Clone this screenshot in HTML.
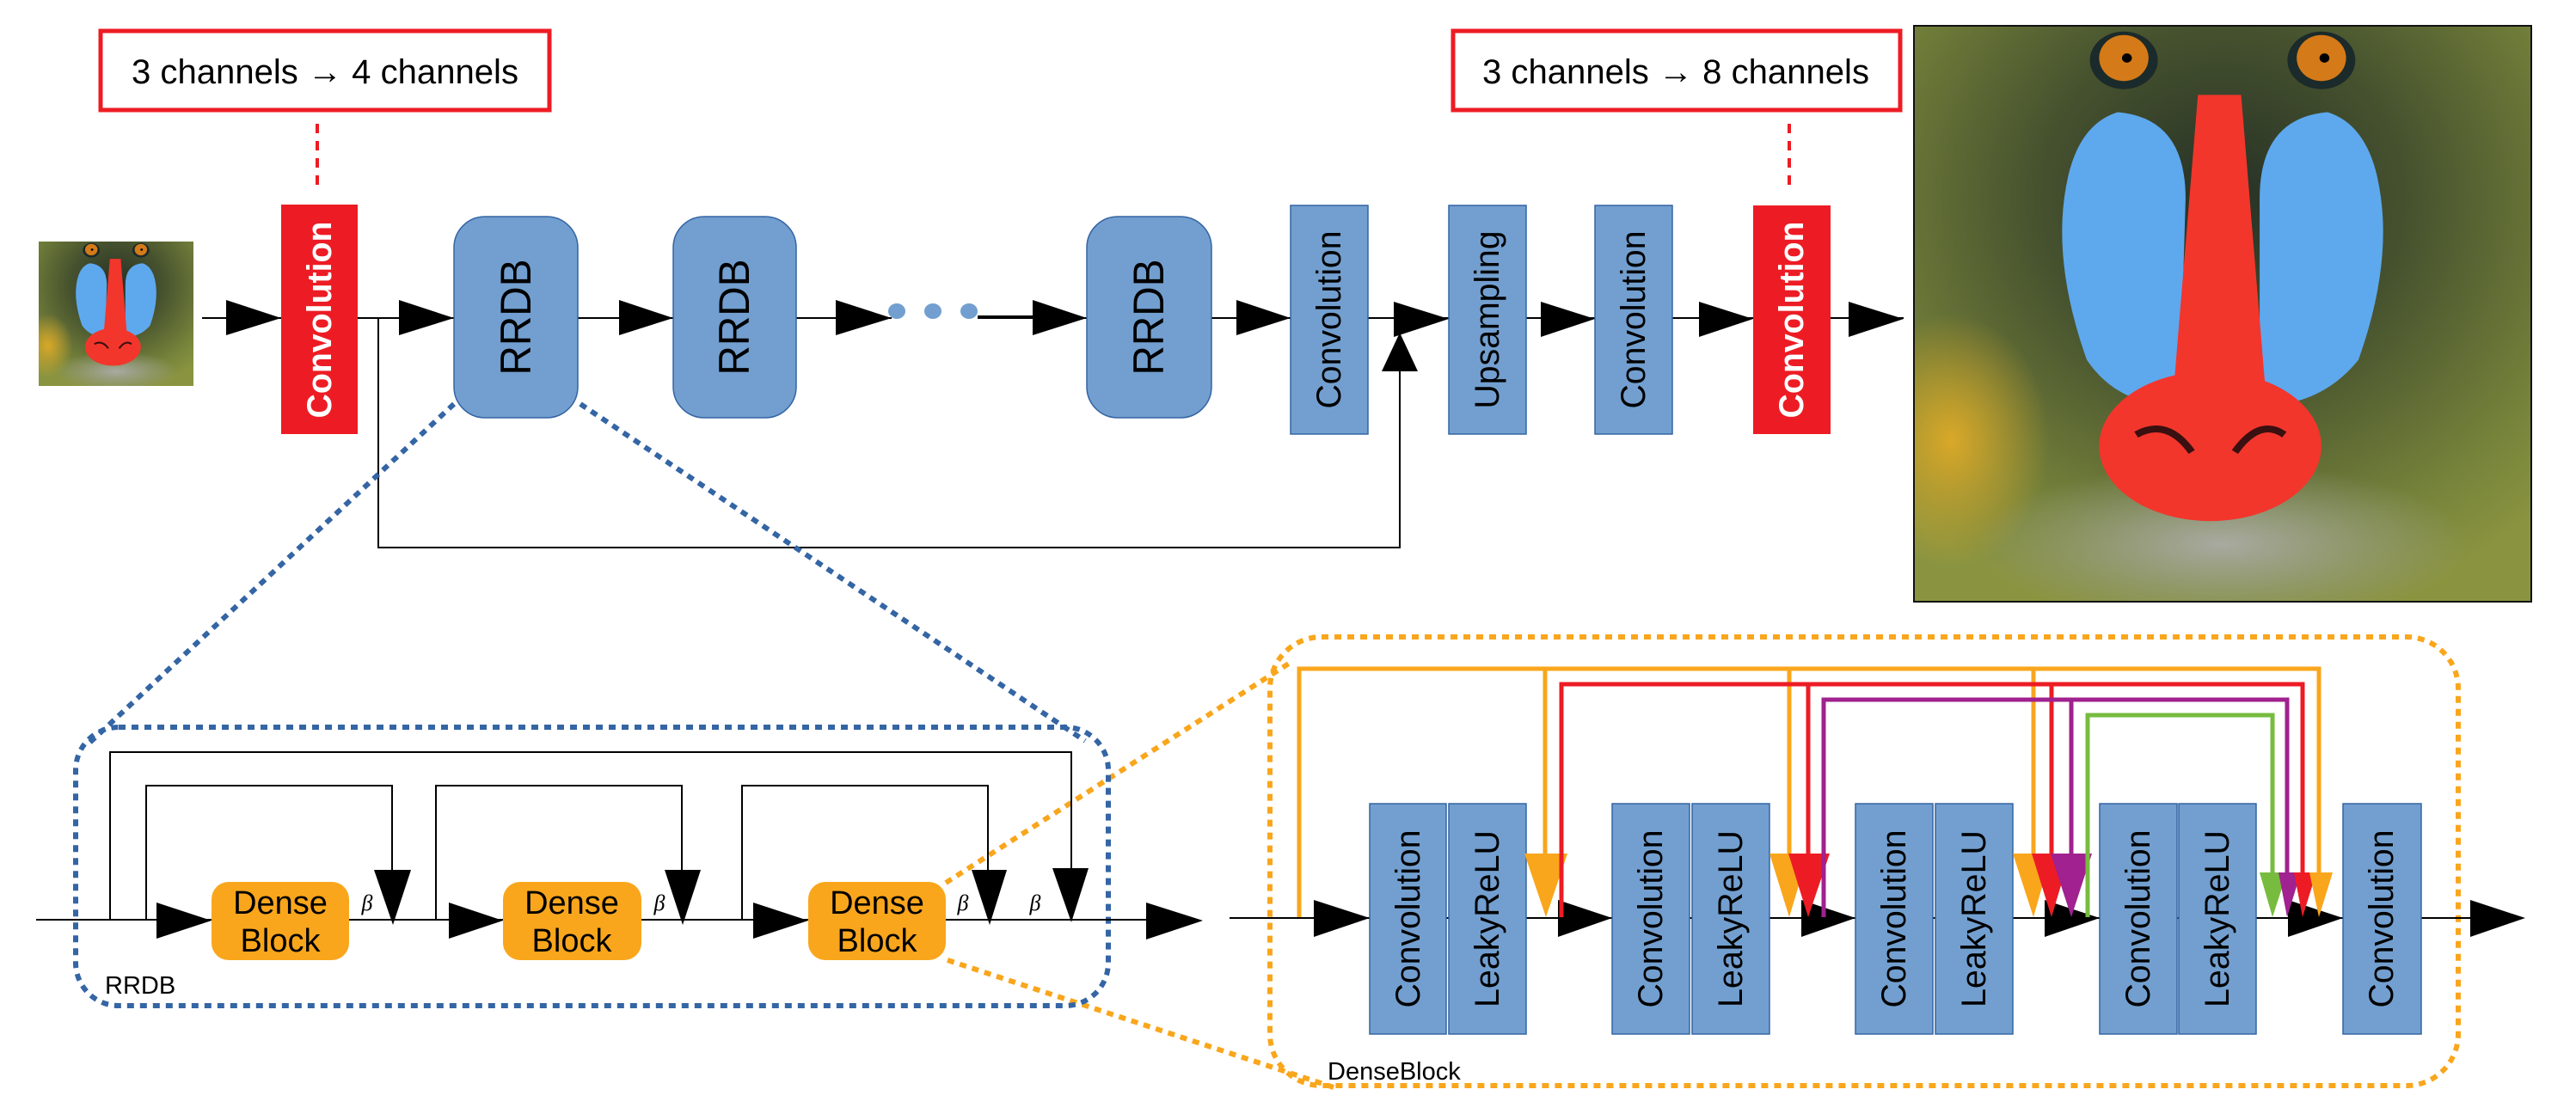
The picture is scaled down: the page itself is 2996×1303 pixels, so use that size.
<!DOCTYPE html>
<html><head><meta charset="utf-8"><style>
html,body{margin:0;padding:0;background:#fff}
svg{display:block}
</style></head><body>
<svg width="2996" height="1303" viewBox="0 0 2996 1303" xmlns="http://www.w3.org/2000/svg" font-family="Liberation Sans, sans-serif">
<defs>
<clipPath id="mc"><rect x="0" y="0" width="100" height="100"/></clipPath>
<radialGradient id="fur" cx="50%" cy="30%" r="75%">
<stop offset="0" stop-color="#263026"/><stop offset="0.4" stop-color="#46522e"/><stop offset="0.8" stop-color="#75823a"/><stop offset="1" stop-color="#8a9440"/>
</radialGradient>
<radialGradient id="yel" cx="50%" cy="50%" r="50%">
<stop offset="0" stop-color="#d9a828"/><stop offset="1" stop-color="#d9a828" stop-opacity="0"/>
</radialGradient>
<radialGradient id="wh" cx="50%" cy="50%" r="50%">
<stop offset="0" stop-color="#a8aaa0"/><stop offset="1" stop-color="#a8aaa0" stop-opacity="0"/>
</radialGradient>
<g id="mand" clip-path="url(#mc)">
<rect x="0" y="0" width="100" height="100" fill="url(#fur)"/>
<ellipse cx="6" cy="72" rx="16" ry="22" fill="url(#yel)"/>
<ellipse cx="50" cy="90" rx="40" ry="14" fill="url(#wh)"/>
<ellipse cx="34" cy="6" rx="5.5" ry="5" fill="#1b2a2a"/>
<ellipse cx="66" cy="6" rx="5.5" ry="5" fill="#1b2a2a"/>
<circle cx="34" cy="5.6" r="4" fill="#d47a18"/>
<circle cx="66" cy="5.6" r="4" fill="#d47a18"/>
<circle cx="34.5" cy="5.6" r="0.8" fill="#000"/>
<circle cx="66.5" cy="5.6" r="0.8" fill="#000"/>
<path d="M33 15 Q44 16 44 30 L43 66 Q33 66 28 58 Q22 40 25 26 Q27 17 33 15Z" fill="#5ea8ee"/>
<path d="M67 15 Q56 16 56 30 L56 66 Q66 66 72 58 Q78 40 75 26 Q73 17 67 15Z" fill="#5ea8ee"/>
<path d="M46 12 L53 12 L57 64 L42 64 Z" fill="#f2362c"/>
<ellipse cx="48" cy="73" rx="18" ry="13" fill="#f2362c"/>
<path d="M36 71 Q41 68 45 74 M52 74 Q56 68 60 71" stroke="#3a1010" stroke-width="1.2" fill="none"/>
</g>
</defs>

<rect x="117" y="36" width="522" height="92" fill="#fff" stroke="#ed1c24" stroke-width="5"/>
<text x="378" y="97" font-size="40" text-anchor="middle" textLength="450" lengthAdjust="spacingAndGlyphs">3 channels → 4 channels</text>
<line x1="369" y1="144" x2="369" y2="215" stroke="#ed1c24" stroke-width="4" stroke-dasharray="11 9"/>
<rect x="1690" y="36" width="520" height="92" fill="#fff" stroke="#ed1c24" stroke-width="5"/>
<text x="1949" y="97" font-size="40" text-anchor="middle" textLength="450" lengthAdjust="spacingAndGlyphs">3 channels → 8 channels</text>
<line x1="2081" y1="144" x2="2081" y2="215" stroke="#ed1c24" stroke-width="4" stroke-dasharray="11 9"/>

<line x1="235" y1="370" x2="2214" y2="370" stroke="#000" stroke-width="2"/>
<polyline points="440,370 440,637 1628,637 1628,430" fill="none" stroke="#000" stroke-width="2"/>
<polygon points="1607,432 1649,432 1628,387" fill="#000"/>

<use href="#mand" transform="translate(45,281) scale(1.8,1.68)"/>

<rect x="327" y="238" width="89" height="267" fill="#ed1c24"/>
<text transform="translate(372,372) rotate(-90)" font-size="40" font-weight="bold" fill="#fff" text-anchor="middle" dominant-baseline="central" textLength="229" lengthAdjust="spacingAndGlyphs">Convolution</text>

<rect x="528" y="252" width="144" height="234" rx="36" fill="#729fcf" stroke="#3465a4" stroke-width="1.5"/>
<text transform="translate(600,369) rotate(-90)" font-size="50" text-anchor="middle" dominant-baseline="central" textLength="135" lengthAdjust="spacingAndGlyphs">RRDB</text>
<rect x="783" y="252" width="143" height="234" rx="36" fill="#729fcf" stroke="#3465a4" stroke-width="1.5"/>
<text transform="translate(854,369) rotate(-90)" font-size="50" text-anchor="middle" dominant-baseline="central" textLength="135" lengthAdjust="spacingAndGlyphs">RRDB</text>
<rect x="1264" y="252" width="145" height="234" rx="36" fill="#729fcf" stroke="#3465a4" stroke-width="1.5"/>
<text transform="translate(1336,369) rotate(-90)" font-size="50" text-anchor="middle" dominant-baseline="central" textLength="135" lengthAdjust="spacingAndGlyphs">RRDB</text>

<rect x="1037" y="340" width="100" height="60" fill="#fff"/>
<ellipse cx="1043" cy="362" rx="10" ry="9" fill="#729fcf"/>
<ellipse cx="1085" cy="362" rx="10" ry="9" fill="#729fcf"/>
<ellipse cx="1127" cy="362" rx="10" ry="9" fill="#729fcf"/>
<line x1="1137" y1="368" x2="1201" y2="368" stroke="#000" stroke-width="2"/>

<rect x="1501" y="239" width="90" height="266" fill="#729fcf" stroke="#3465a4" stroke-width="1.5"/>
<text transform="translate(1546,372) rotate(-90)" font-size="40" text-anchor="middle" dominant-baseline="central" textLength="207" lengthAdjust="spacingAndGlyphs">Convolution</text>
<rect x="1685" y="239" width="90" height="266" fill="#729fcf" stroke="#3465a4" stroke-width="1.5"/>
<text transform="translate(1730,372) rotate(-90)" font-size="40" text-anchor="middle" dominant-baseline="central" textLength="207" lengthAdjust="spacingAndGlyphs">Upsampling</text>
<rect x="1855" y="239" width="90" height="266" fill="#729fcf" stroke="#3465a4" stroke-width="1.5"/>
<text transform="translate(1900,372) rotate(-90)" font-size="40" text-anchor="middle" dominant-baseline="central" textLength="207" lengthAdjust="spacingAndGlyphs">Convolution</text>
<rect x="2039" y="239" width="90" height="266" fill="#ed1c24"/>
<text transform="translate(2084,372) rotate(-90)" font-size="40" font-weight="bold" fill="#fff" text-anchor="middle" dominant-baseline="central" textLength="229" lengthAdjust="spacingAndGlyphs">Convolution</text>

<g fill="#000">
<polygon points="263,349 263,390 327,370"/>
<polygon points="464,349 464,390 528,370"/>
<polygon points="720,349 720,390 783,370"/>
<polygon points="972,349 972,390 1037,370"/>
<polygon points="1201,349 1201,390 1264,370"/>
<polygon points="1438,349 1438,390 1501,370"/>
<polygon points="1621,351 1621,392 1685,371"/>
<polygon points="1792,351 1792,392 1855,371"/>
<polygon points="1976,351 1976,392 2039,371"/>
<polygon points="2150,351 2150,392 2214,371"/>
</g>

<use href="#mand" transform="translate(2226,30) scale(7.18,6.7)"/>
<rect x="2226" y="30" width="718" height="670" fill="none" stroke="#111" stroke-width="2"/>

<line x1="528" y1="470" x2="100" y2="868" stroke="#3465a4" stroke-width="6" stroke-dasharray="8 7"/>
<line x1="675" y1="470" x2="1262" y2="862" stroke="#3465a4" stroke-width="6" stroke-dasharray="8 7"/>
<line x1="1100" y1="1027" x2="1502" y2="770" stroke="#f9a61c" stroke-width="6" stroke-dasharray="8 7"/>
<line x1="1102" y1="1117" x2="1551" y2="1265" stroke="#f9a61c" stroke-width="6" stroke-dasharray="8 7"/>

<rect x="88" y="846" width="1201" height="324" rx="50" fill="none" stroke="#3465a4" stroke-width="6" stroke-dasharray="8 7"/>
<line x1="42" y1="1070" x2="1340" y2="1070" stroke="#000" stroke-width="2"/>
<g fill="none" stroke="#000" stroke-width="2">
<polyline points="128,1070 128,875 1246,875 1246,1020"/>
<polyline points="170,1070 170,914 456,914 456,1020"/>
<polyline points="507,1070 507,914 793,914 793,1020"/>
<polyline points="863,1070 863,914 1149,914 1149,1020"/>
</g>
<g fill="#000">
<polygon points="435,1012 478,1012 457,1076"/>
<polygon points="773,1012 815,1012 794,1076"/>
<polygon points="1130,1012 1171,1012 1151,1076"/>
<polygon points="1224,1010 1266,1010 1246,1073"/>
<polygon points="182,1050 182,1092 246,1071"/>
<polygon points="522,1050 522,1092 585,1071"/>
<polygon points="876,1050 876,1092 940,1071"/>
<polygon points="1333,1050 1333,1093 1399,1071"/>
</g>
<g fill="#f9a61c">
<rect x="246" y="1026" width="160" height="91" rx="20"/>
<rect x="585" y="1026" width="161" height="91" rx="20"/>
<rect x="940" y="1026" width="160" height="91" rx="20"/>
</g>
<g font-size="38" text-anchor="middle">
<text x="326" y="1063">Dense</text><text x="326" y="1107">Block</text>
<text x="665" y="1063">Dense</text><text x="665" y="1107">Block</text>
<text x="1020" y="1063">Dense</text><text x="1020" y="1107">Block</text>
</g>
<g font-family="Liberation Serif, serif" font-style="italic" font-size="26" text-anchor="middle">
<text x="427" y="1059">β</text><text x="767" y="1059">β</text><text x="1120" y="1059">β</text><text x="1204" y="1059">β</text>
</g>
<text x="122" y="1156" font-size="29">RRDB</text>

<rect x="1477" y="741" width="1382" height="522" rx="60" fill="none" stroke="#f9a61c" stroke-width="6" stroke-dasharray="8 7"/>
<line x1="1430" y1="1068" x2="2880" y2="1068" stroke="#000" stroke-width="2"/>
<text x="1544" y="1256" font-size="29">DenseBlock</text>

<g fill="none" stroke-width="5">
<polyline points="1511,1067 1511,778 2697,778 2697,1015" stroke="#f9a61c"/>
<line x1="1797" y1="778" x2="1797" y2="995" stroke="#f9a61c"/>
<line x1="2081" y1="778" x2="2081" y2="995" stroke="#f9a61c"/>
<line x1="2365" y1="778" x2="2365" y2="995" stroke="#f9a61c"/>
<polyline points="1816,1067 1816,796 2678,796 2678,1015" stroke="#ed1c24"/>
<line x1="2103" y1="796" x2="2103" y2="995" stroke="#ed1c24"/>
<line x1="2386" y1="796" x2="2386" y2="995" stroke="#ed1c24"/>
<polyline points="2121,1067 2121,814 2660,814 2660,1015" stroke="#a0218f"/>
<line x1="2409" y1="814" x2="2409" y2="995" stroke="#a0218f"/>
<polyline points="2428,1067 2428,832 2643,832 2643,1015" stroke="#77bc3f"/>
</g>

<g fill="#729fcf" stroke="#3465a4" stroke-width="1.5">
<rect x="1593" y="935" width="89" height="268"/><rect x="1685" y="935" width="90" height="268"/>
<rect x="1875" y="935" width="90" height="268"/><rect x="1968" y="935" width="90" height="268"/>
<rect x="2158" y="935" width="90" height="268"/><rect x="2251" y="935" width="90" height="268"/>
<rect x="2442" y="935" width="90" height="268"/><rect x="2534" y="935" width="90" height="268"/>
<rect x="2725" y="935" width="91" height="268"/>
</g>
<g font-size="40" text-anchor="middle" dominant-baseline="central">
<text transform="translate(1638,1069) rotate(-90)" textLength="207" lengthAdjust="spacingAndGlyphs">Convolution</text>
<text transform="translate(1730,1069) rotate(-90)" textLength="206" lengthAdjust="spacingAndGlyphs">LeakyReLU</text>
<text transform="translate(1920,1069) rotate(-90)" textLength="207" lengthAdjust="spacingAndGlyphs">Convolution</text>
<text transform="translate(2013,1069) rotate(-90)" textLength="206" lengthAdjust="spacingAndGlyphs">LeakyReLU</text>
<text transform="translate(2203,1069) rotate(-90)" textLength="207" lengthAdjust="spacingAndGlyphs">Convolution</text>
<text transform="translate(2296,1069) rotate(-90)" textLength="206" lengthAdjust="spacingAndGlyphs">LeakyReLU</text>
<text transform="translate(2487,1069) rotate(-90)" textLength="207" lengthAdjust="spacingAndGlyphs">Convolution</text>
<text transform="translate(2579,1069) rotate(-90)" textLength="206" lengthAdjust="spacingAndGlyphs">LeakyReLU</text>
<text transform="translate(2770,1069) rotate(-90)" textLength="207" lengthAdjust="spacingAndGlyphs">Convolution</text>
</g>

<g fill="#000">
<polygon points="1528,1047 1528,1090 1593,1068"/>
<polygon points="1812,1047 1812,1090 1875,1068"/>
<polygon points="2095,1047 2095,1090 2158,1068"/>
<polygon points="2378,1047 2378,1090 2442,1068"/>
<polygon points="2661,1047 2661,1090 2725,1068"/>
<polygon points="2873,1047 2873,1090 2937,1068"/>
</g>

<polygon points="1773,993 1823,993 1798,1067" fill="#f9a61c"/>
<polygon points="2058,993 2103,993 2081,1067" fill="#f9a61c"/>
<polygon points="2080,993 2128,993 2103,1067" fill="#ed1c24"/>
<polygon points="2341,993 2386,993 2365,1067" fill="#f9a61c"/>
<polygon points="2363,993 2408,993 2386,1067" fill="#ed1c24"/>
<polygon points="2385,993 2433,993 2409,1067" fill="#a0218f"/>
<polygon points="2628,1015 2660,1015 2643,1067" fill="#77bc3f"/>
<polygon points="2650,1015 2676,1015 2660,1067" fill="#a0218f"/>
<polygon points="2668,1015 2694,1015 2678,1067" fill="#ed1c24"/>
<polygon points="2686,1015 2713,1015 2697,1067" fill="#f9a61c"/>
<g stroke-width="5">
<line x1="1816" y1="990" x2="1816" y2="1067" stroke="#ed1c24"/>
<line x1="2121" y1="990" x2="2121" y2="1067" stroke="#a0218f"/>
<line x1="2428" y1="990" x2="2428" y2="1067" stroke="#77bc3f"/>
</g>
</svg>
</body></html>
